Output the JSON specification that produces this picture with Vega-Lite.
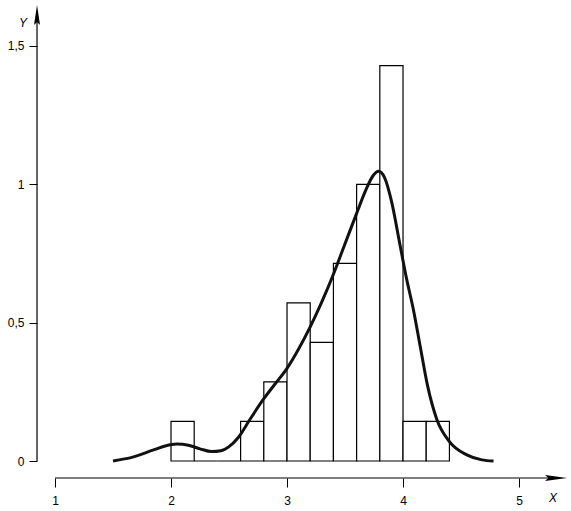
{
  "$schema": "https://vega.github.io/schema/vega-lite/v6.json",
  "width": 571,
  "height": 511,
  "padding": 0,
  "autosize": {"type": "none"},
  "background": "white",
  "config": {"view": {"stroke": null}, "font": "Liberation Sans"},
  "datasets": {
    "bars": [
      {"x": 2.0, "x2": 2.2, "y": 0.1429},
      {"x": 2.2, "x2": 2.4, "y": 0},
      {"x": 2.4, "x2": 2.6, "y": 0},
      {"x": 2.6, "x2": 2.8, "y": 0.1429},
      {"x": 2.8, "x2": 3.0, "y": 0.2857},
      {"x": 3.0, "x2": 3.2, "y": 0.5714},
      {"x": 3.2, "x2": 3.4, "y": 0.4286},
      {"x": 3.4, "x2": 3.6, "y": 0.7143},
      {"x": 3.6, "x2": 3.8, "y": 1.0},
      {"x": 3.8, "x2": 4.0, "y": 1.4286},
      {"x": 4.0, "x2": 4.2, "y": 0.1429},
      {"x": 4.2, "x2": 4.4, "y": 0.1429}
    ],
    "kde": [
      {"x": 1.5, "y": 0},
      {"x": 1.67, "y": 0.014},
      {"x": 1.85, "y": 0.04},
      {"x": 1.95, "y": 0.054},
      {"x": 2.05, "y": 0.061},
      {"x": 2.15, "y": 0.057},
      {"x": 2.25, "y": 0.044},
      {"x": 2.35, "y": 0.034},
      {"x": 2.43, "y": 0.037},
      {"x": 2.5, "y": 0.052},
      {"x": 2.58, "y": 0.085},
      {"x": 2.68, "y": 0.15},
      {"x": 2.8, "y": 0.225},
      {"x": 2.9, "y": 0.28},
      {"x": 3.0, "y": 0.335},
      {"x": 3.1, "y": 0.405},
      {"x": 3.2, "y": 0.485},
      {"x": 3.3, "y": 0.575},
      {"x": 3.4, "y": 0.675},
      {"x": 3.5, "y": 0.785},
      {"x": 3.6, "y": 0.895},
      {"x": 3.68, "y": 0.98},
      {"x": 3.74, "y": 1.03},
      {"x": 3.79, "y": 1.047},
      {"x": 3.84, "y": 1.025},
      {"x": 3.9, "y": 0.94},
      {"x": 3.97, "y": 0.79},
      {"x": 4.03, "y": 0.66},
      {"x": 4.09, "y": 0.546},
      {"x": 4.15, "y": 0.41},
      {"x": 4.21, "y": 0.275},
      {"x": 4.29, "y": 0.152},
      {"x": 4.4, "y": 0.07},
      {"x": 4.55, "y": 0.022},
      {"x": 4.68, "y": 0.004},
      {"x": 4.78, "y": 0}
    ],
    "xaxis": [{"x": 1.0, "x2": 5.3, "y": -0.0614}],
    "yaxis": [{"x": 0.845, "y": 0, "y2": 1.6}],
    "xarrow": [{"x": 5.319, "y": -0.0614}],
    "yarrow": [{"x": 0.845, "y": 1.612}],
    "titles": [
      {"x": 0.724, "y": 1.583, "label": "Y"},
      {"x": 5.293, "y": -0.132, "label": "X"}
    ]
  },
  "encoding": {
    "x": {
      "field": "x", "type": "quantitative",
      "scale": {"domain": [0.5259, 5.448], "nice": false, "zero": false},
      "axis": {
        "orient": "bottom", "offset": -33, "values": [1, 2, 3, 4, 5],
        "domain": false, "grid": false, "title": null,
        "tickSize": 9, "tickColor": "black", "tickWidth": 1,
        "labelColor": "black", "labelFontSize": 12, "labelPadding": 8,
        "labelFont": "Liberation Sans"
      }
    },
    "y": {
      "field": "y", "type": "quantitative",
      "scale": {"domain": [-0.1807, 1.6661], "nice": false, "zero": false},
      "axis": {
        "orient": "left", "offset": -37, "values": [0, 0.5, 1, 1.5],
        "domain": false, "grid": false, "title": null,
        "tickSize": 8, "tickColor": "black", "tickWidth": 1,
        "labelColor": "black", "labelFontSize": 12, "labelPadding": 5,
        "labelFont": "Liberation Sans",
        "labelExpr": "replace(toString(datum.value), '.', ',')"
      }
    }
  },
  "layer": [
    {
      "data": {"name": "bars"},
      "mark": {"type": "rect", "fill": "white", "stroke": "black", "strokeWidth": 1.2},
      "encoding": {
        "x2": {"field": "x2"},
        "y2": {"datum": 0}
      }
    },
    {
      "data": {"name": "kde"},
      "mark": {"type": "line", "color": "#111111", "strokeWidth": 3, "interpolate": "monotone"},
      "encoding": {}
    },
    {
      "data": {"name": "xaxis"},
      "mark": {"type": "rule", "color": "black", "strokeWidth": 1.2},
      "encoding": {"x2": {"field": "x2"}}
    },
    {
      "data": {"name": "yaxis"},
      "mark": {"type": "rule", "color": "black", "strokeWidth": 1.2},
      "encoding": {"y2": {"field": "y2"}}
    },
    {
      "data": {"name": "xarrow"},
      "mark": {"type": "point", "filled": true, "color": "black", "opacity": 1,
               "shape": "M1,0L-1,-0.28L-0.7,0L-1,0.28Z", "size": 484},
      "encoding": {}
    },
    {
      "data": {"name": "yarrow"},
      "mark": {"type": "point", "filled": true, "color": "black", "opacity": 1,
               "shape": "M0,-1L-0.3,1L0,0.7L0.3,1Z", "size": 400},
      "encoding": {}
    },
    {
      "data": {"name": "titles"},
      "mark": {"type": "text", "fontSize": 12, "fontStyle": "italic", "color": "black",
               "font": "Liberation Sans", "align": "center", "baseline": "middle"},
      "encoding": {"text": {"field": "label"}}
    }
  ]
}
